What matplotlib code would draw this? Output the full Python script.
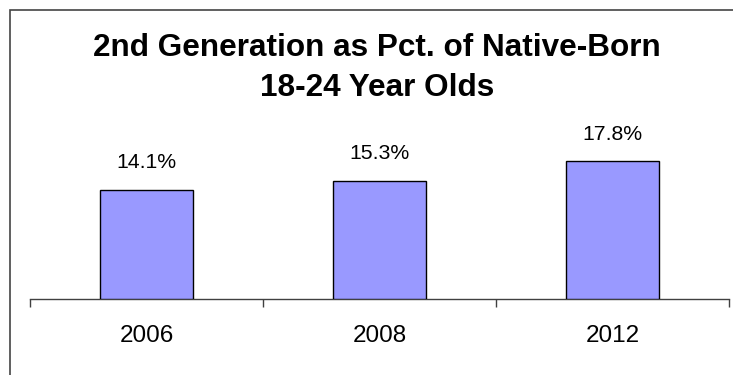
import matplotlib
matplotlib.use("Agg")
import matplotlib.pyplot as plt
from matplotlib.patches import Rectangle

plt.rcParams['font.family'] = ['Liberation Sans', 'DejaVu Sans']

years = ["2006", "2008", "2012"]
values = [14.1, 15.3, 17.8]
labels = ["14.1%", "15.3%", "17.8%"]
title_line1 = "2nd Generation as Pct. of Native-Born"
title_line2 = "18-24 Year Olds"

W, H = 733, 375
fig = plt.figure(figsize=(W / 100, H / 100), dpi=100)
fig.patch.set_facecolor("white")

# axes: x from 30 to 729 px, baseline at y=299, top at ylim 25
y0 = 299
ppu = 7.74
top_val = 25
ax = fig.add_axes([30 / W, (H - y0) / H, 699 / W, top_val * ppu / H])
x = list(range(len(years)))
ax.bar(x, values, width=0.40, color="#9999FF", edgecolor="black", linewidth=1.0, zorder=3)
ax.set_xlim(-0.5, len(years) - 0.5)
ax.set_ylim(0, top_val)

for xi, v, lab in zip(x, values, labels):
    ax.annotate(lab, (xi, v), xytext=(0, 19.5), textcoords="offset points",
                ha="center", va="center", fontsize=15.3, color="black",
                annotation_clip=False)

for s in ["left", "right", "top"]:
    ax.spines[s].set_visible(False)
ax.spines["bottom"].set_color("#404040")
ax.spines["bottom"].set_linewidth(1.0)
ax.set_yticks([])
ax.set_xticks(x)
ax.set_xticklabels(years, fontsize=17.5)
ax.tick_params(axis="x", which="major", length=0, pad=18.5)
ax.set_xticks([i - 0.5 for i in range(len(years) + 1)], minor=True)
ax.tick_params(axis="x", which="minor", length=5.8, width=1.0, color="#404040", direction="out")
ax.patch.set_alpha(0)

fig.text(377 / W, 1 - 48 / H, title_line1, ha="center", va="center",
         fontsize=22.7, fontweight="bold")
fig.text(377 / W, 1 - 88 / H, title_line2, ha="center", va="center",
         fontsize=22.7, fontweight="bold")

border = Rectangle((9.5 / W, -0.1), 1.2, (H - 9.5) / H + 0.1, transform=fig.transFigure,
                   fill=False, edgecolor="#444444", linewidth=1.2, clip_on=False)
fig.patches.append(border)

fig.savefig("out.png", dpi=100, facecolor="white")
